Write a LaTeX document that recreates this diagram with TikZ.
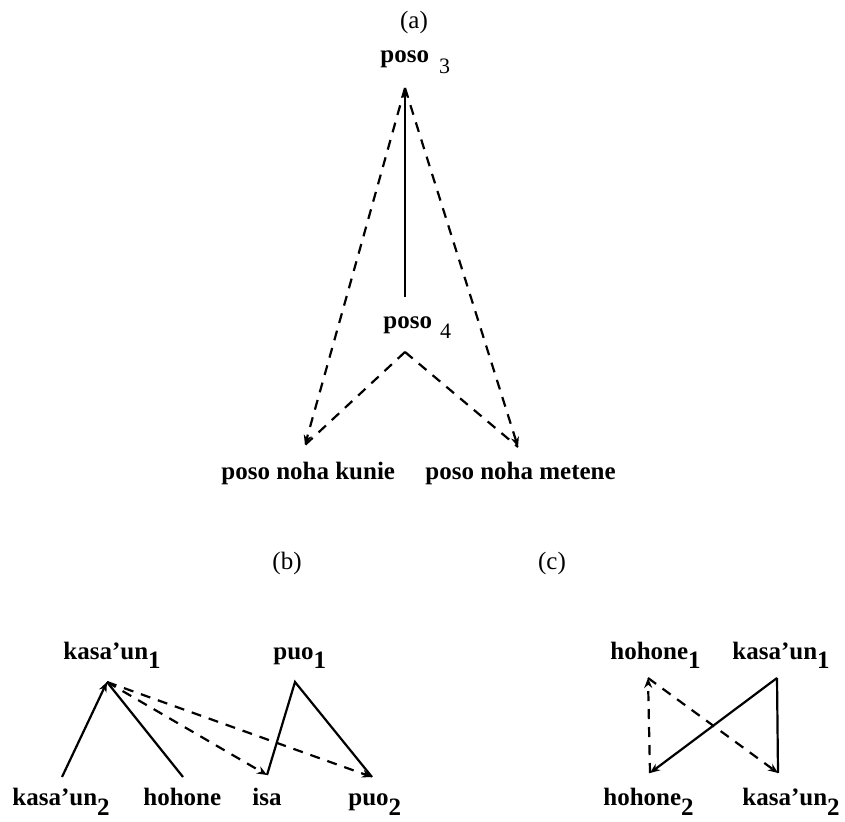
\documentclass[tikz,border=0pt]{standalone}
\usepackage{fontspec}
\setmainfont{Liberation Serif}
\usetikzlibrary{arrows.meta}
\newcommand{\lowsub}[1]{\raisebox{-5pt}{#1}}
\begin{document}
\begin{tikzpicture}[x=0.5pt,y=-0.5pt,
  lbl/.style={inner sep=0pt,anchor=base west,font=\fontsize{12.5}{14}\selectfont\bfseries},
  plabel/.style={inner sep=0pt,anchor=base,font=\fontsize{12.5}{14}\selectfont},
  solidln/.style={line width=1.1pt},
  dashln/.style={line width=1.1pt,dash pattern=on 5pt off 4pt},
  arr/.style={-{Stealth[length=5pt,width=4pt]}}]
\useasboundingbox (0,0) rectangle (845,822);
% ---- (a)
\node[plabel] (la) at (414,29) {(a)};
\node[lbl] (poso3) at (380,63) {poso\hspace{5pt}\raisebox{-5.5pt}{\mdseries\fontsize{11}{12}\selectfont 3}};
\node[lbl] (poso4) at (383,329) {poso\hspace{4pt}\raisebox{-5pt}{\mdseries\fontsize{11}{12}\selectfont 4}};
\node[lbl] (kunie) at (221,480) {poso noha kunie};
\node[lbl] (metene) at (425,480) {poso noha metene};
\coordinate (A3) at (405,88);
\coordinate (A4t) at (405,297);
\coordinate (A4) at (405,352);
\coordinate (K) at (305,445);
\coordinate (M) at (518,447);
\draw[solidln,arr] (A4t) -- (A3);
\draw[dashln,arr] (A3) -- (K);
\draw[dashln,arr] (A3) -- (M);
\draw[dashln] (A4) -- (K);
\draw[dashln] (A4) -- (M);
% ---- (b)
\node[plabel] (lb) at (287,570) {(b)};
\node[lbl] (kb1) at (63,659) {kasa’un\lowsub{1}};
\node[lbl] (pb1) at (273,659) {puo\lowsub{1}};
\node[lbl] (kb2) at (12,805) {kasa’un\lowsub{2}};
\node[lbl] (hb) at (143,805) {hohone};
\node[lbl] (ib) at (252,805) {isa};
\node[lbl] (pb2) at (348,805) {puo\lowsub{2}};
\coordinate (B1) at (107,682);
\coordinate (B2) at (62,777);
\coordinate (Bh) at (183,777);
\coordinate (Bi) at (267,775);
\coordinate (Bp1) at (295,682);
\coordinate (Bp2) at (372,777);
\draw[solidln,arr] (B2) -- (B1);
\draw[solidln] (B1) -- (Bh);
\draw[dashln,arr] (B1) -- (Bi);
\draw[dashln,arr] (B1) -- (Bp2);
\draw[solidln] (Bi) -- (Bp1) -- (Bp2);
% ---- (c)
\node[plabel] (lc) at (552,570) {(c)};
\node[lbl] (hc1) at (610,659) {hohone\lowsub{1}};
\node[lbl] (kc1) at (732,659) {kasa’un\lowsub{1}};
\node[lbl] (hc2) at (603,805) {hohone\lowsub{2}};
\node[lbl] (kc2) at (742,805) {kasa’un\lowsub{2}};
\coordinate (C1) at (648,678);
\coordinate (C2) at (777,678);
\coordinate (C3) at (650,773);
\coordinate (C4) at (778,773);
\draw[dashln,arr] (C3) -- (C1);
\draw[dashln,arr] (C1) -- (C4);
\draw[solidln,arr] (C2) -- (C3);
\draw[solidln] (C2) -- (C4);
\end{tikzpicture}
\end{document}
